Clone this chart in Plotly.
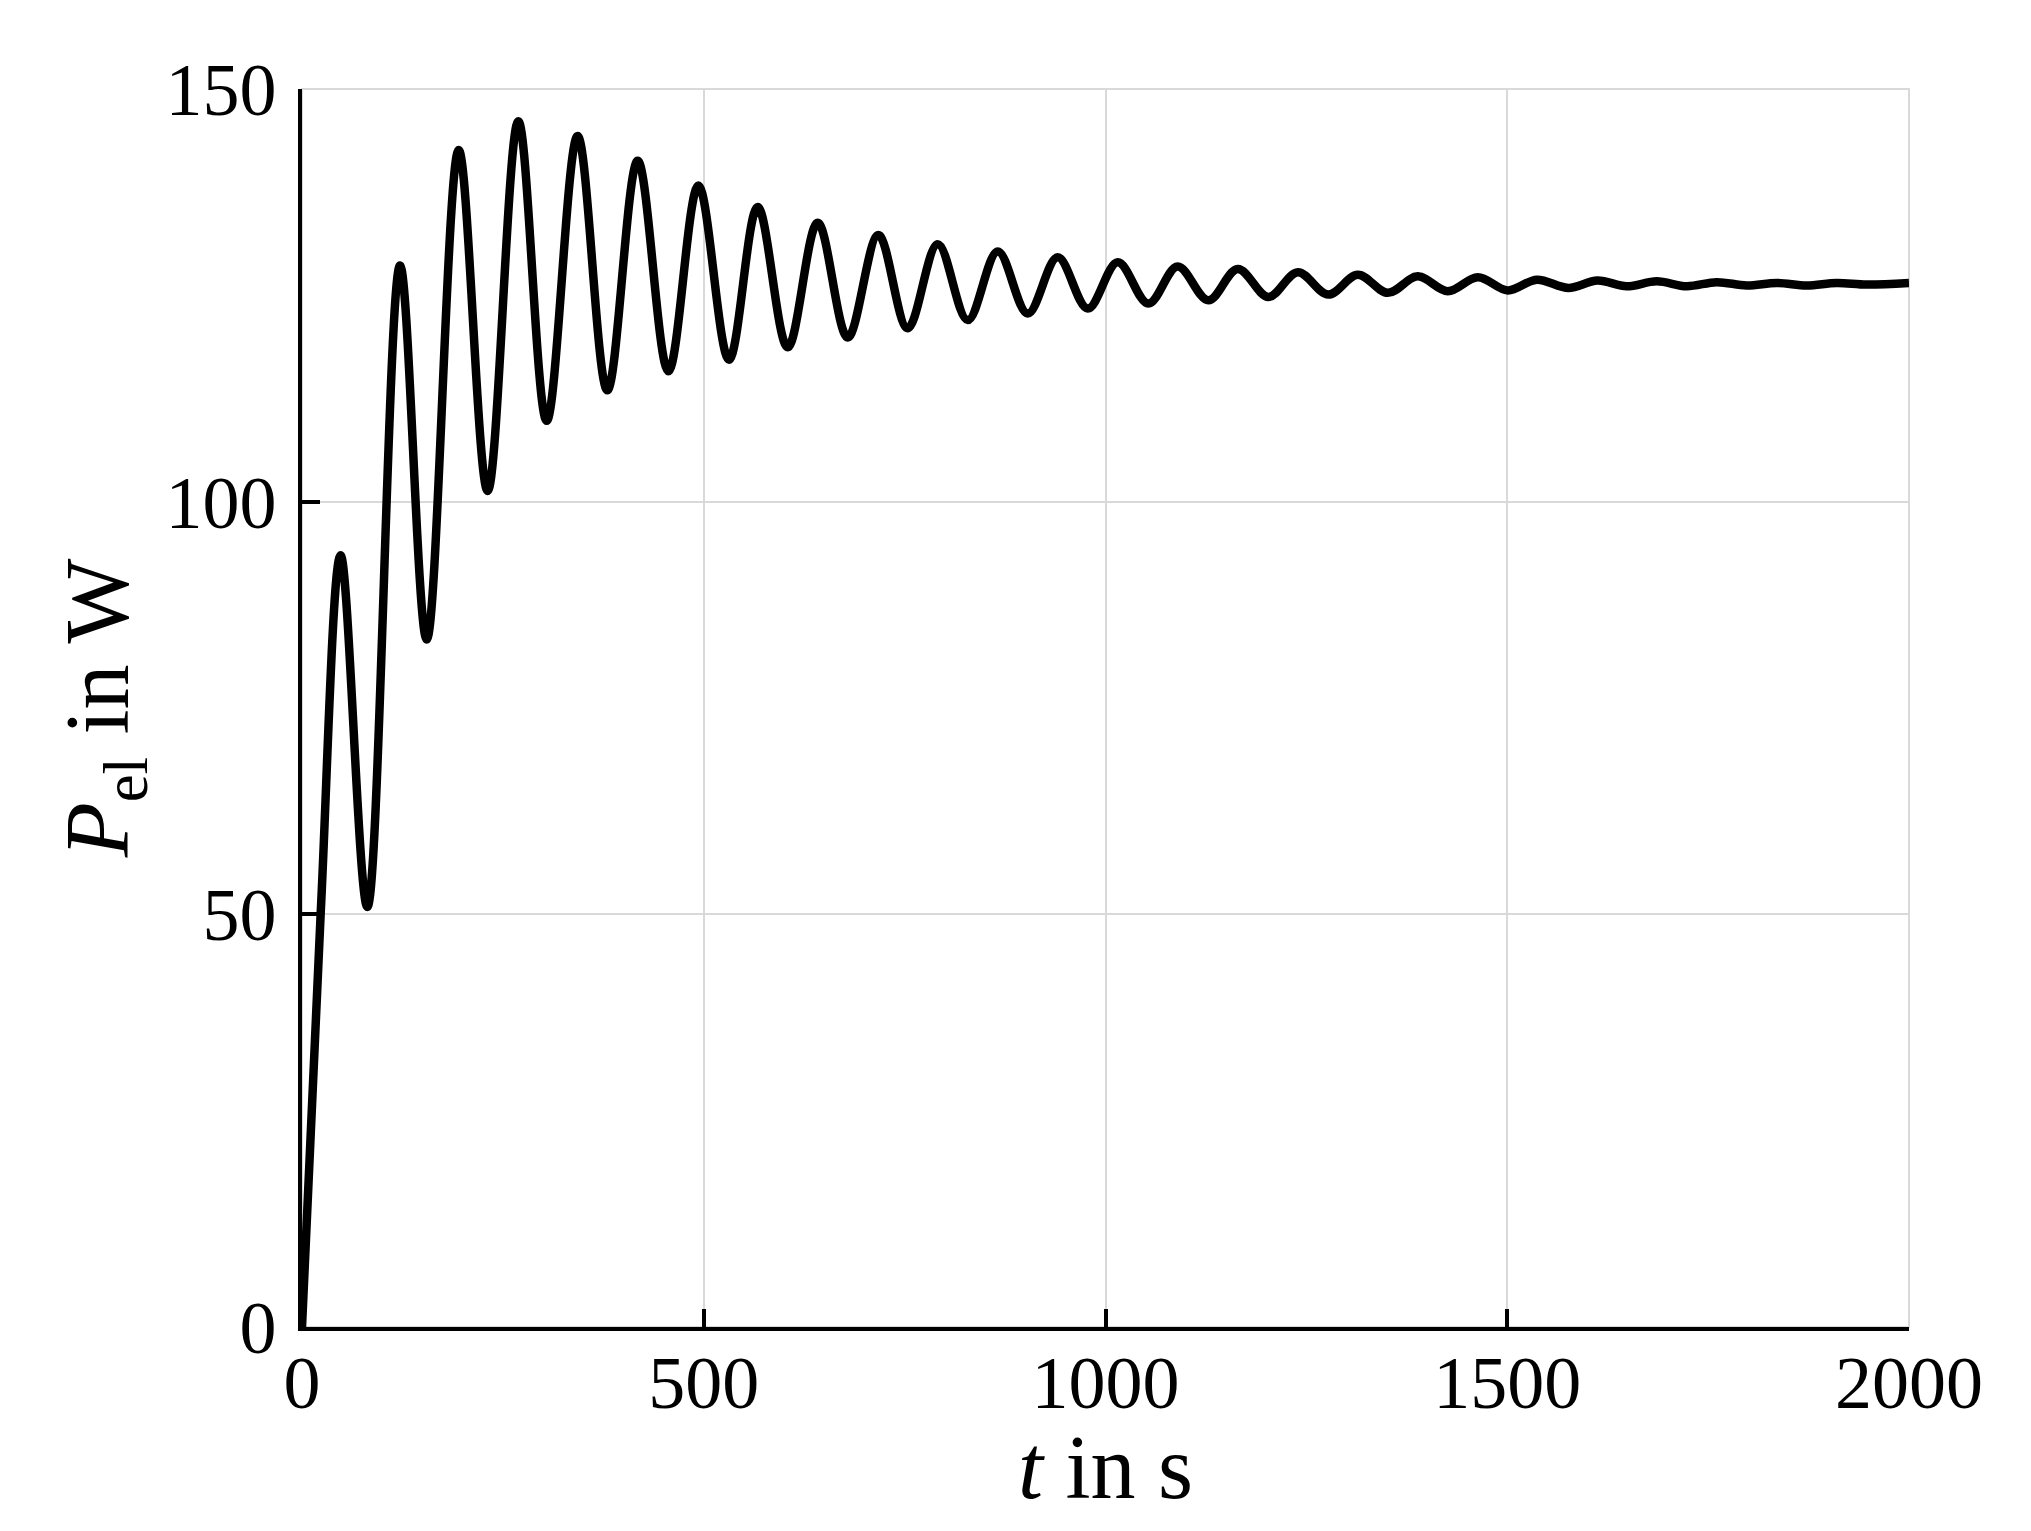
import plotly.graph_objects as go

# time in s and electrical power in W (start, rise, then extrema)
t_s = [0, 23.2, 48.1, 81.3, 122.0, 155.2, 195.0, 231.0, 269.2, 304.5, 343.0,
       380.0, 417.8, 456.0, 493.3, 531.4, 567.1, 604.5, 641.8, 679.2, 717.3,
       753.8, 791.2, 828.5, 865.9, 903.2, 940.5, 977.9, 1015.2, 1053.3,
       1089.8, 1128.0, 1164.6, 1202.7, 1239.3, 1277.3, 1314.0, 1351.3,
       1388.6, 1426.0, 1463.3, 1500.6, 1536.7, 1576.0, 1612.2, 1648.7,
       1686.0, 1723.4, 1760.7, 1798.0, 1835.4, 1872.7, 1910.0, 1947.4, 2000]
p_el_w = [0, 50, 93.5, 50.9, 128.6, 83.3, 142.6, 101.3, 146.1, 109.8, 144.3,
          113.5, 141.3, 115.8, 138.3, 117.2, 135.7, 118.7, 133.8, 119.9, 132.3,
          121.0, 131.2, 122.0, 130.3, 122.8, 129.6, 123.4, 129.0, 124.0,
          128.5, 124.4, 128.2, 124.8, 127.8, 125.1, 127.5, 125.3,
          127.3, 125.5, 127.2, 125.6, 126.9, 125.9, 126.8, 126.1,
          126.7, 126.1, 126.6, 126.2, 126.5, 126.2, 126.5, 126.3, 126.5]

x_ticks = [0, 500, 1000, 1500, 2000]
y_ticks = [0, 50, 100, 150]

serif = "Liberation Serif, DejaVu Serif, serif"
grid = "#d9d9d9"

fig = go.Figure(go.Scatter(
    x=t_s, y=p_el_w, mode="lines",
    line=dict(color="black", width=8.5, shape="spline", smoothing=1),
    showlegend=False,
))

axis_style = dict(
    showline=True, linecolor="black", linewidth=3.5,
    ticks="inside", ticklen=18, tickwidth=3.5, tickcolor="black",
    showgrid=True, gridcolor=grid, gridwidth=2,
    zeroline=False, mirror=False,
    tickfont=dict(family=serif, size=74, color="black"),
)

fig.update_xaxes(range=[0, 2000], tickvals=x_ticks, ticklabelstandoff=-12,
                 **axis_style)
fig.update_yaxes(range=[0, 150], tickvals=y_ticks, ticklabelstandoff=7,
                 **axis_style)

# axis titles placed as annotations so they sit where the reference has them
title_font = dict(family=serif, size=90, color="black")
fig.add_annotation(text="<i>t</i> in s", xref="paper", yref="paper",
                   x=0.5, y=-0.1135, xanchor="center", yanchor="middle",
                   showarrow=False, font=title_font)
fig.add_annotation(text="<i>P</i><sub>el</sub> in W", xref="paper", yref="paper",
                   x=-0.123, y=0.5, xanchor="center", yanchor="middle",
                   textangle=-90, showarrow=False, font=title_font)

# light frame on the top and right edges (grid lines at 150 and 2000)
fig.add_shape(type="rect", xref="paper", yref="paper", x0=0, x1=1, y0=0, y1=1,
              line=dict(color=grid, width=2), layer="below")

fig.update_layout(
    width=2031, height=1531,
    margin=dict(l=294, r=130, t=81, b=212),
    plot_bgcolor="white", paper_bgcolor="white",
)

fig.write_html("out.html")
